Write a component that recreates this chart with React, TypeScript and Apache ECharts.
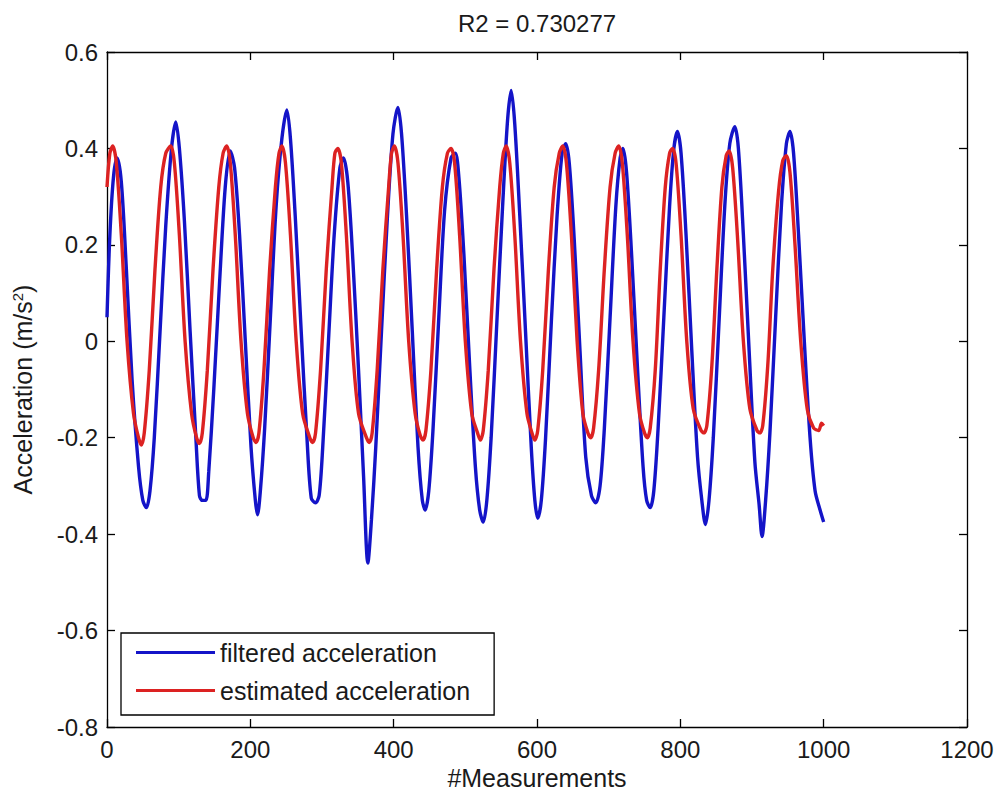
import React, { useEffect, useRef } from "react";
import * as echarts from "echarts";

// [sample index, acceleration]
const filteredAcceleration: [number, number][] = [
  [0, 0.05], [4, 0.22], [9, 0.34], [14, 0.38], [20, 0.33], [27, 0.15], [35, -0.08], [44, -0.26], [50, -0.33], [55, -0.345],
  [60, -0.31], [66, -0.2], [74, 0.02], [82, 0.24], [90, 0.4], [96, 0.455], [101, 0.4], [108, 0.25], [116, 0.02], [124, -0.2],
  [129, -0.32], [133, -0.33], [138, -0.33], [142, -0.27], [149, -0.1], [157, 0.12], [165, 0.32], [172, 0.395], [178, 0.36], [185, 0.22],
  [193, 0.0], [201, -0.22], [207, -0.33], [210, -0.36], [214, -0.31], [220, -0.18], [228, 0.05], [236, 0.28], [244, 0.42], [251, 0.48],
  [256, 0.42], [263, 0.25], [271, 0.02], [279, -0.2], [285, -0.325], [291, -0.335], [296, -0.32], [301, -0.22], [309, 0.0], [317, 0.22],
  [325, 0.36], [330, 0.38], [336, 0.33], [343, 0.17], [351, -0.06], [358, -0.28], [364, -0.46], [369, -0.37], [375, -0.22], [383, 0.02],
  [391, 0.25], [399, 0.43], [406, 0.485], [411, 0.43], [418, 0.26], [426, 0.02], [434, -0.22], [440, -0.33], [444, -0.35], [449, -0.31],
  [455, -0.18], [463, 0.05], [471, 0.27], [480, 0.38], [486, 0.39], [491, 0.34], [498, 0.18], [506, -0.05], [514, -0.26], [520, -0.35],
  [525, -0.375], [530, -0.33], [536, -0.2], [544, 0.04], [552, 0.28], [559, 0.46], [564, 0.52], [569, 0.45], [576, 0.26], [584, 0.02],
  [592, -0.22], [597, -0.33], [601, -0.367], [606, -0.33], [612, -0.2], [620, 0.04], [628, 0.26], [635, 0.39], [640, 0.41], [645, 0.37],
  [652, 0.21], [660, -0.02], [668, -0.24], [676, -0.32], [682, -0.335], [688, -0.3], [694, -0.18], [702, 0.05], [710, 0.28], [716, 0.38],
  [720, 0.4], [725, 0.35], [732, 0.18], [740, -0.05], [748, -0.26], [753, -0.33], [758, -0.345], [763, -0.31], [769, -0.18], [777, 0.05],
  [785, 0.28], [791, 0.4], [796, 0.435], [801, 0.39], [808, 0.22], [816, -0.02], [824, -0.24], [830, -0.33], [835, -0.38], [840, -0.33],
  [846, -0.2], [854, 0.04], [862, 0.28], [869, 0.41], [876, 0.445], [881, 0.4], [888, 0.22], [896, -0.02], [904, -0.25], [910, -0.34],
  [914, -0.405], [919, -0.33], [925, -0.19], [933, 0.05], [941, 0.28], [948, 0.41], [953, 0.435], [958, 0.39], [965, 0.22], [973, 0.0],
  [981, -0.2], [988, -0.31], [995, -0.35], [1000, -0.375],
];

const estimatedAcceleration: [number, number][] = [
  [0, 0.32], [4, 0.39], [8, 0.405], [13, 0.37], [20, 0.22], [28, 0.0], [37, -0.15], [44, -0.2], [48, -0.215], [52, -0.19],
  [59, -0.06], [67, 0.15], [75, 0.32], [82, 0.39], [89, 0.405], [94, 0.37], [101, 0.22], [109, 0.0], [118, -0.15], [125, -0.2],
  [129, -0.212], [133, -0.19], [140, -0.06], [148, 0.15], [156, 0.32], [162, 0.39], [167, 0.405], [172, 0.37], [179, 0.22], [187, 0.0],
  [196, -0.15], [204, -0.2], [208, -0.21], [212, -0.19], [219, -0.06], [227, 0.15], [235, 0.32], [240, 0.39], [244, 0.405], [249, 0.37],
  [256, 0.22], [264, 0.0], [273, -0.15], [283, -0.2], [287, -0.21], [291, -0.19], [298, -0.06], [306, 0.15], [314, 0.32], [318, 0.39],
  [322, 0.4], [327, 0.37], [334, 0.22], [342, 0.0], [351, -0.15], [362, -0.2], [366, -0.21], [370, -0.19], [377, -0.06], [385, 0.15],
  [393, 0.32], [397, 0.39], [401, 0.405], [406, 0.37], [413, 0.22], [421, 0.0], [430, -0.15], [437, -0.195], [441, -0.205], [445, -0.185],
  [452, -0.06], [460, 0.15], [468, 0.32], [475, 0.39], [480, 0.4], [485, 0.37], [492, 0.22], [500, 0.0], [509, -0.15], [517, -0.19],
  [521, -0.205], [525, -0.185], [532, -0.06], [540, 0.15], [548, 0.32], [553, 0.39], [557, 0.405], [562, 0.37], [569, 0.22], [577, 0.0],
  [586, -0.15], [593, -0.19], [597, -0.205], [601, -0.185], [608, -0.06], [616, 0.15], [624, 0.32], [631, 0.39], [636, 0.405], [641, 0.37],
  [648, 0.22], [656, 0.0], [664, -0.15], [671, -0.19], [675, -0.2], [679, -0.18], [686, -0.06], [694, 0.15], [702, 0.32], [709, 0.39],
  [714, 0.405], [719, 0.37], [726, 0.22], [734, 0.0], [743, -0.15], [750, -0.19], [754, -0.2], [758, -0.18], [765, -0.06], [772, 0.15],
  [779, 0.32], [785, 0.39], [789, 0.4], [794, 0.37], [801, 0.22], [809, 0.0], [818, -0.14], [829, -0.185], [833, -0.19], [837, -0.175],
  [844, -0.05], [851, 0.15], [858, 0.32], [864, 0.385], [868, 0.395], [873, 0.36], [880, 0.21], [888, 0.0], [897, -0.14], [907, -0.185],
  [911, -0.19], [915, -0.175], [922, -0.05], [929, 0.15], [937, 0.31], [943, 0.375], [948, 0.385], [953, 0.35], [960, 0.2], [968, 0.0],
  [977, -0.14], [986, -0.18], [993, -0.185], [997, -0.17], [1000, -0.175],
];

const seriesNames = ["filtered acceleration", "estimated acceleration"];
const titleText = "R2 = 0.730277";
const xAxisName = "#Measurements";
const yAxisName = "Acceleration (m/s{sup|2})";

const FONT = "'Liberation Sans', Arial, sans-serif";
const TXT = "#1a1a1a";

export default function App() {
  const ref = useRef<HTMLDivElement>(null);
  useEffect(() => {
    if (!ref.current) return;
    const chart = echarts.init(ref.current, null, { renderer: "svg" });
    const fmtY = (v: number) => String(parseFloat(v.toFixed(1)));
    const fmtX = (v: number) => String(Math.round(v));
    const axisLine = { show: true, onZero: false, lineStyle: { color: "#000", width: 1.3 } };
    const tick = { show: true, inside: true, length: 8, lineStyle: { color: "#000", width: 1.3 } };
    chart.setOption({
      animation: false,
      backgroundColor: "#fff",
      textStyle: { fontFamily: FONT },
      title: {
        text: titleText,
        left: 453,
        top: 6,
        textStyle: { fontFamily: FONT, fontSize: 24, fontWeight: "normal", color: TXT },
      },
      grid: { left: 107, right: 32, top: 52, bottom: 71, containLabel: false },
      legend: {
        orient: "vertical",
        left: 121,
        top: 633,
        padding: [7, 24, 12, 15],
        itemGap: 13,
        itemWidth: 79,
        itemHeight: 3,
        icon: "rect",
        backgroundColor: "#fff",
        borderColor: "#000",
        borderWidth: 1.3,
        borderRadius: 0,
        textStyle: { fontFamily: FONT, fontSize: 25, color: TXT },
        data: seriesNames,
      },
      xAxis: [
        {
          type: "value",
          min: 0,
          max: 1200,
          interval: 200,
          position: "bottom",
          name: xAxisName,
          nameLocation: "middle",
          nameGap: 33,
          nameTextStyle: { fontFamily: FONT, fontSize: 25, color: TXT },
          axisLine,
          axisTick: tick,
          splitLine: { show: false },
          axisLabel: { fontFamily: FONT, fontSize: 24, color: TXT, margin: 10, formatter: fmtX },
        },
        {
          type: "value",
          min: 0,
          max: 1200,
          interval: 200,
          position: "top",
          axisLine,
          axisTick: tick,
          splitLine: { show: false },
          axisLabel: { show: false },
        },
      ],
      yAxis: [
        {
          type: "value",
          min: -0.8,
          max: 0.6,
          interval: 0.2,
          position: "left",
          name: yAxisName,
          nameLocation: "middle",
          nameGap: 72,
          nameTextStyle: {
            fontFamily: FONT,
            fontSize: 25,
            color: TXT,
            rich: {
              sup: { fontFamily: FONT, fontSize: 15, color: TXT, verticalAlign: "top", padding: [0, 0, 10, 0] },
            },
          },
          axisLine,
          axisTick: tick,
          splitLine: { show: false },
          axisLabel: { fontFamily: FONT, fontSize: 24, color: TXT, margin: 9, formatter: fmtY },
        },
        {
          type: "value",
          min: -0.8,
          max: 0.6,
          interval: 0.2,
          position: "right",
          axisLine,
          axisTick: tick,
          splitLine: { show: false },
          axisLabel: { show: false },
        },
      ],
      series: [
        {
          name: seriesNames[0],
          type: "line",
          data: filteredAcceleration,
          symbol: "none",
          smooth: 0.3,
          lineStyle: { color: "#1414c8", width: 3.4 },
          itemStyle: { color: "#1414c8" },
          z: 2,
        },
        {
          name: seriesNames[1],
          type: "line",
          data: estimatedAcceleration,
          symbol: "none",
          smooth: 0.3,
          lineStyle: { color: "#dc2222", width: 3.4 },
          itemStyle: { color: "#dc2222" },
          z: 3,
        },
      ],
    });
    return () => chart.dispose();
  }, []);
  return <div ref={ref} style={{ width: 999, height: 798, position: "absolute", left: 0, top: 0 }} />;
}
